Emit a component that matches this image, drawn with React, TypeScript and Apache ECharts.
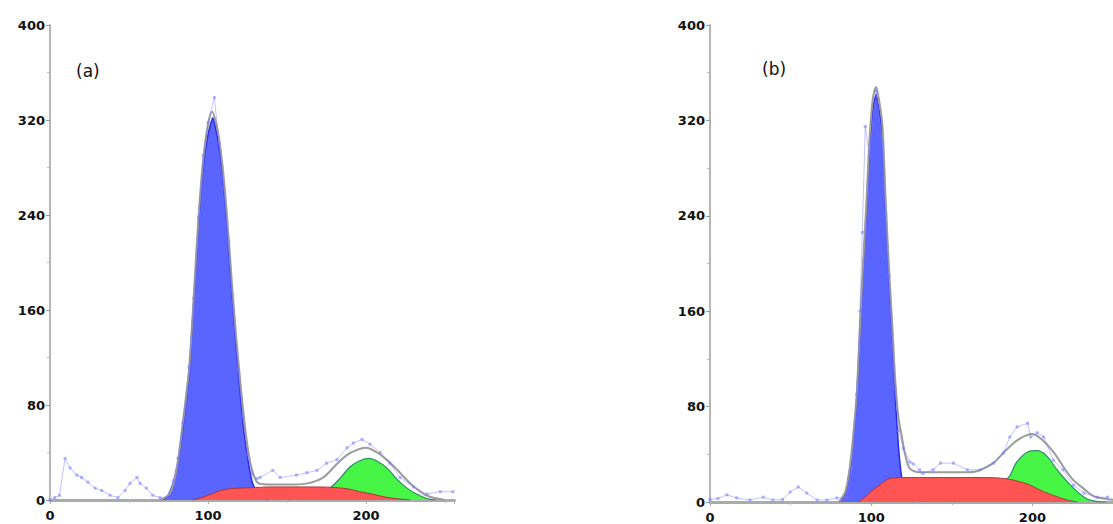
import React, { useEffect, useRef } from "react";
import * as echarts from "echarts";

// ---------- Panel (a) ----------
const blueAX = [70, 74, 78, 81, 84, 88, 91, 94, 97, 100, 103, 106, 109, 112, 115, 118, 121, 124, 128, 132, 138];
const blueAY = [0, 2, 14, 31, 60, 105, 168, 233, 281, 308, 322, 305, 277, 233, 177, 126, 80, 45, 15, 4, 0];
const redAX = [90, 96, 102, 108, 114, 120, 130, 140, 150, 160, 170, 180, 188, 196, 204, 212, 220, 228];
const redAY = [0, 2, 5, 8, 9.5, 10, 10.5, 11, 11, 11, 11, 10.5, 9.5, 7, 5, 2.5, 1, 0];
const greenAX = [150, 160, 170, 178, 184, 190, 196, 202, 208, 214, 220, 226, 232, 238, 244];
const greenAY = [0, 2, 6, 11, 19, 28, 33, 35, 32, 26, 17, 10, 5, 1.5, 0];
const fitAX = [70, 76, 80, 84, 88, 91, 94, 97, 100, 102.5, 106, 109, 112, 115, 118, 121, 124, 127, 131, 137, 150, 163, 173, 182, 188, 194, 200, 207, 213, 220, 228, 238, 250];
const fitAY = [0, 6, 25, 64, 110, 172, 238, 287, 316, 327, 312, 284, 240, 185, 135, 92, 55, 30, 15, 13, 13, 14, 19, 31, 38, 42, 44, 40, 34, 25, 14, 4, 0];
const rawAX = [0, 3, 6, 9.5, 12.7, 17, 20, 24, 28.5, 32.7, 38, 43, 47.5, 50.6, 55, 57, 61, 65, 69.6, 74, 78, 81, 84, 88, 91, 94, 97, 100, 104, 107, 110, 113, 116, 119, 122, 125, 128, 131, 133, 141, 145.6, 156, 162.6, 169, 175, 181.6, 188, 192, 197.5, 202.5, 209, 215, 221.5, 230, 238.6, 247, 255];
const rawAY = [0, 2, 4, 35, 27, 21, 19, 15, 10, 8, 4, 2, 8, 14, 19, 14, 10, 4, 2, 2, 16, 35, 65, 112, 170, 238, 290, 318, 339, 300, 262, 218, 160, 110, 70, 38, 22, 18, 19, 25, 19, 21, 23, 25, 31, 34, 44, 48, 51, 47, 40, 31, 19, 11, 5, 7, 7];

// ---------- Panel (b) ----------
const blueBX = [80, 84, 87, 89, 91, 93, 95, 97, 99, 101, 103, 105, 107, 109, 111, 113, 115, 117, 119, 122, 126];
const blueBY = [0, 8, 30, 55, 86, 142, 197, 245, 300, 330, 342, 328, 310, 245, 190, 142, 86, 45, 20, 6, 0];
const redBX = [92, 96, 100, 104, 108, 112, 120, 130, 140, 150, 160, 170, 180, 186, 192, 198, 204, 210, 216, 222, 228];
const redBY = [0, 4, 9, 13, 17, 20, 20.5, 20.5, 20.5, 20.5, 20.5, 20.5, 20, 19, 17, 14.5, 10.5, 7, 4, 1.5, 0];
const greenBX = [150, 160, 170, 176, 182, 186, 190, 197, 203, 209, 215, 222, 228, 234, 240, 246];
const greenBY = [0, 2, 7, 11, 17, 22, 33, 42, 43, 38.5, 27.5, 16.5, 8.5, 2.5, 0.5, 0];
const fitBX = [80, 84, 87, 89, 91, 93, 95, 97, 99, 101, 103, 105, 107, 109, 111, 113, 115, 117, 119, 121, 124, 130, 145, 160, 166, 176, 184, 192, 200, 207, 213, 219, 225, 232, 238, 246, 256];
const fitBY = [0, 9, 32, 58, 90, 146, 200, 250, 305, 338, 348, 336, 315, 252, 197, 150, 100, 70, 55, 40, 28, 25, 25, 25, 26, 33, 44, 53, 57, 51, 42, 30, 19, 11, 5, 2.5, 1];
const rawBX = [0, 5, 10.5, 16.6, 24.8, 33, 39, 45, 49.7, 54.7, 60, 66.4, 72.5, 78.7, 85, 88, 91, 93, 94.5, 96.3, 99, 103, 107, 109, 111, 113, 115, 117, 120, 124, 126, 130, 132, 138.5, 143, 151, 159.6, 167.7, 176, 182, 186, 190.5, 197, 199, 203, 207, 213, 219, 225.5, 232, 240, 246.6];
const rawBY = [2, 3, 6, 3.4, 1.7, 4, 1.7, 2, 8.4, 12.6, 7.5, 1.7, 1.7, 3.4, 3.4, 28, 90, 160, 226, 315, 290, 345, 300, 240, 190, 140, 95, 60, 45, 33.5, 32, 27, 24, 27, 32.6, 32.6, 27, 27, 32.6, 41, 54.5, 63, 66, 54.5, 58, 54.5, 35, 27, 14, 7.5, 4, 4];

const yTicks = [0, 80, 160, 240, 320, 400];
const xLabels = [0, 100, 200];
const panelLabels = ["(a)", "(b)"];

const pairs = (xs: number[], ys: number[]) => xs.map((x, i) => [x, ys[i]]);

const labelStyle = {
  color: "#111",
  fontSize: 13,
  fontWeight: "bold" as const,
  fontFamily: "DejaVu Sans",
};

function makeXAxis(gridIndex: number, max: number) {
  return {
    type: "value" as const,
    gridIndex,
    min: 0,
    max,
    interval: 100,
    splitLine: { show: false },
    axisLine: { show: true, lineStyle: { color: "#ababab", width: 3 } },
    axisTick: { show: true, length: 4, lineStyle: { color: "#aaa" } },
    minorTick: { show: true, splitNumber: 2, length: 3, lineStyle: { color: "#bbb" } },
    axisLabel: {
      ...labelStyle,
      margin: 9,
      showMaxLabel: false,
      formatter: (v: number) => (xLabels.includes(v) ? String(v) : ""),
    },
  };
}

function makeYAxis(gridIndex: number) {
  return {
    type: "value" as const,
    gridIndex,
    min: yTicks[0],
    max: yTicks[yTicks.length - 1],
    interval: yTicks[1] - yTicks[0],
    splitLine: { show: false },
    axisLine: { show: true, lineStyle: { color: "#b5b5b5", width: 2 } },
    axisTick: { show: true, length: 4, lineStyle: { color: "#999" } },
    minorTick: { show: true, splitNumber: 2, length: 3, lineStyle: { color: "#bbb" } },
    axisLabel: { ...labelStyle, margin: 5 },
  };
}

function panelSeries(
  idx: number,
  blue: number[][],
  red: number[][],
  green: number[][],
  fit: number[][],
  raw: number[][]
) {
  const common = { xAxisIndex: idx, yAxisIndex: idx, type: "line" as const, showSymbol: false, symbol: "none" };
  return [
    {
      ...common,
      name: "G1",
      z: 2,
      data: blue,
      smooth: 0.15,
      lineStyle: { color: "#2a2ae6", width: 1.5 },
      areaStyle: { color: "#5a64ff", opacity: 1 },
    },
    {
      ...common,
      name: "G2",
      z: 2,
      data: green,
      smooth: 0.3,
      lineStyle: { color: "#2f8a6a", width: 1.2 },
      areaStyle: { color: "#46f546", opacity: 1 },
    },
    {
      ...common,
      name: "S",
      z: 3,
      data: red,
      smooth: 0.3,
      lineStyle: { color: "#a83838", width: 1 },
      areaStyle: { color: "#ff5454", opacity: 1 },
    },
    {
      ...common,
      name: "Fit",
      z: 4,
      data: fit,
      smooth: 0.3,
      lineStyle: { color: "#9c9c9c", width: 2 },
    },
    {
      ...common,
      name: "Raw",
      z: 5,
      data: raw,
      showSymbol: true,
      symbol: "rect",
      symbolSize: 3,
      itemStyle: { color: "rgba(120,120,255,0.55)" },
      lineStyle: { color: "rgba(120,120,255,0.45)", width: 1 },
    },
  ];
}

export default function App() {
  const ref = useRef<HTMLDivElement>(null);

  useEffect(() => {
    if (!ref.current) return;
    const chart = echarts.init(ref.current, undefined, { renderer: "svg" });
    chart.setOption({
      animation: false,
      backgroundColor: "#ffffff",
      grid: [
        { left: 50, top: 25, width: 404.5, height: 475 },
        { left: 710, top: 25, width: 403, height: 478 },
      ],
      xAxis: [makeXAxis(0, 256), makeXAxis(1, 250)],
      yAxis: [makeYAxis(0), makeYAxis(1)],
      series: [
        ...panelSeries(
          0,
          pairs(blueAX, blueAY),
          pairs(redAX, redAY),
          pairs(greenAX, greenAY),
          pairs(fitAX, fitAY),
          pairs(rawAX, rawAY)
        ),
        ...panelSeries(
          1,
          pairs(blueBX, blueBY),
          pairs(redBX, redBY),
          pairs(greenBX, greenBY),
          pairs(fitBX, fitBY),
          pairs(rawBX, rawBY)
        ),
      ],
      graphic: [
        {
          type: "text",
          left: 76,
          top: 62,
          style: { text: panelLabels[0], fontSize: 17, fill: "#111", fontFamily: "DejaVu Sans" },
        },
        {
          type: "text",
          left: 762,
          top: 60,
          style: { text: panelLabels[1], fontSize: 17, fill: "#111", fontFamily: "DejaVu Sans" },
        },
      ],
    });
    return () => chart.dispose();
  }, []);

  return (
    <div
      ref={ref}
      style={{ position: "fixed", left: 0, top: 0, width: 1113, height: 524, background: "#fff" }}
    />
  );
}
